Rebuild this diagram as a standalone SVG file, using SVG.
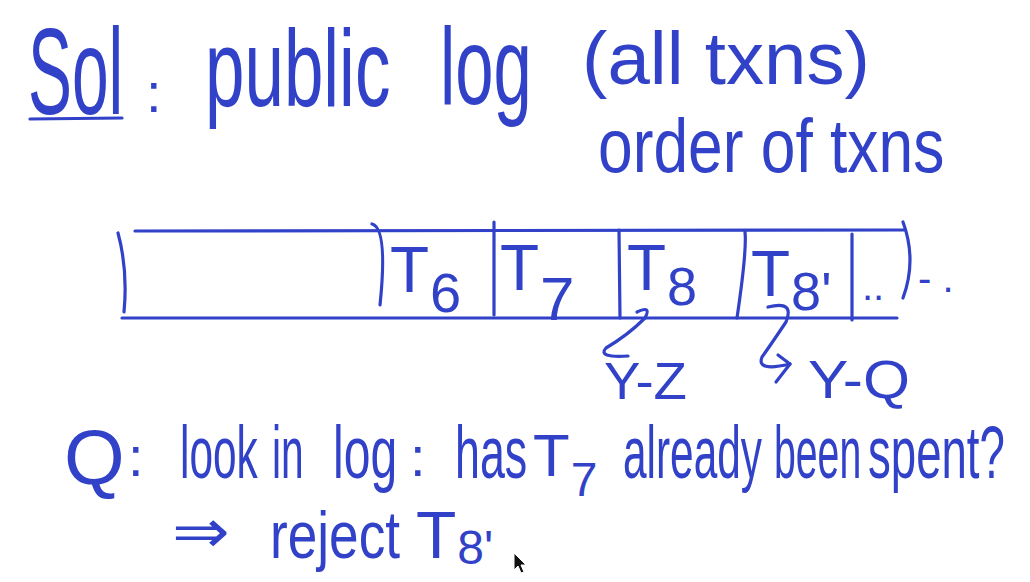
<svg xmlns="http://www.w3.org/2000/svg" width="1030" height="582" viewBox="0 0 1030 582">
<style>
.h{font-family:"Liberation Sans",Arial,"DejaVu Sans",sans-serif;fill:#3142c9;}
.s{fill:none;stroke:#3142c9;stroke-width:3.2;stroke-linecap:round;stroke-linejoin:round;}
</style>
<rect width="1030" height="582" fill="#ffffff"/>
<g id="title">
<text class="h" transform="translate(28 114) scale(0.54 1)" font-size="122">Sol</text>
<path class="s" d="M30 119 L122 118"/>
<text class="h" x="146" y="112" font-size="56">:</text>
<text class="h" transform="translate(205 106) scale(0.645 1)" font-size="110">public</text>
<text class="h" transform="translate(440 104) scale(0.626 1)" font-size="110">log</text>
<text class="h" transform="translate(582 84) scale(1.03 1)" font-size="74">(all txns)</text>
<text class="h" transform="translate(598 172) scale(0.82 1)" font-size="76">order of txns</text>
</g>
<g id="log">
<path class="s" d="M135 231 L905 230"/>
<path class="s" d="M122 318 L897 318"/>
<path class="s" d="M118 233 Q128 270 124 312"/>
<path class="s" d="M372 224 Q388 228 380 305"/>
<path class="s" d="M494 222 L494 315"/>
<path class="s" d="M619 230 L620 318"/>
<path class="s" d="M745 232 Q747 250 737 318"/>
<path class="s" d="M852 234 L852 320"/>
<path class="s" d="M903 222 Q917 260 903 298"/>
<text class="h" x="390" y="292" font-size="64">T<tspan dx="1" dy="20" font-size="56">6</tspan></text>
<text class="h" x="500" y="290" font-size="64">T<tspan dx="1" dy="30" font-size="62">7</tspan></text>
<text class="h" x="627" y="290" font-size="64">T<tspan dx="1" dy="15" font-size="54">8</tspan></text>
<text class="h" x="751" y="296" font-size="64">T<tspan dx="1" dy="14" font-size="54">8'</tspan></text>
<text class="h" x="862" y="300" font-size="40">..</text>
<text class="h" x="918" y="292" font-size="40">- .</text>
</g>
<g id="connectors">
<path class="s" d="M637 312 Q652 305 645 318 Q628 335 606 348 Q597 358 628 356"/>
<path class="s" d="M768 307 Q795 300 786 322 Q772 343 762 357 Q756 372 790 364"/>
<path class="s" d="M778 355 L790 364 L776 382"/>
</g>
<g id="transfers">
<text class="h" transform="translate(604 399) scale(1.05 1)" font-size="52">Y-Z</text>
<text class="h" transform="translate(808 398) scale(1.12 1)" font-size="54">Y-Q</text>
</g>
<g id="question">
<text class="h" x="64" y="484" font-size="78">Q</text>
<text class="h" x="128" y="476" font-size="56">:</text>
<text class="h" transform="translate(180 478) scale(0.573 1)" font-size="74">look</text>
<text class="h" transform="translate(272 478) scale(0.55 1)" font-size="74">in</text>
<text class="h" transform="translate(333 478) scale(0.65 1)" font-size="74">log</text>
<text class="h" x="410" y="476" font-size="56">:</text>
<text class="h" transform="translate(455 478) scale(0.605 1)" font-size="74">has</text>
<text class="h" x="533" y="476" font-size="60">T<tspan dx="1" dy="20" font-size="48">7</tspan></text>
<text class="h" transform="translate(623 478) scale(0.573 1)" font-size="74">already</text>
<text class="h" transform="translate(774 478) scale(0.53 1)" font-size="74">been</text>
<text class="h" transform="translate(868 478) scale(0.616 1)" font-size="74">spent?</text>
</g>
<g id="conclusion">
<text class="h" transform="translate(172 552) scale(1.15 1)" font-size="60">⇒</text>
<text class="h" transform="translate(270 558) scale(0.806 1)" font-size="66">reject</text>
<text class="h" x="416" y="558" font-size="66">T<tspan dx="1" dy="6" font-size="48">8'</tspan></text>
</g>
<g id="cursor">
<path d="M514 553 L514 570 L518 566 L521 573 L524 572 L521 565 L526 565 Z" fill="#111" stroke="#fff" stroke-width="1"/>
</g>
</svg>
